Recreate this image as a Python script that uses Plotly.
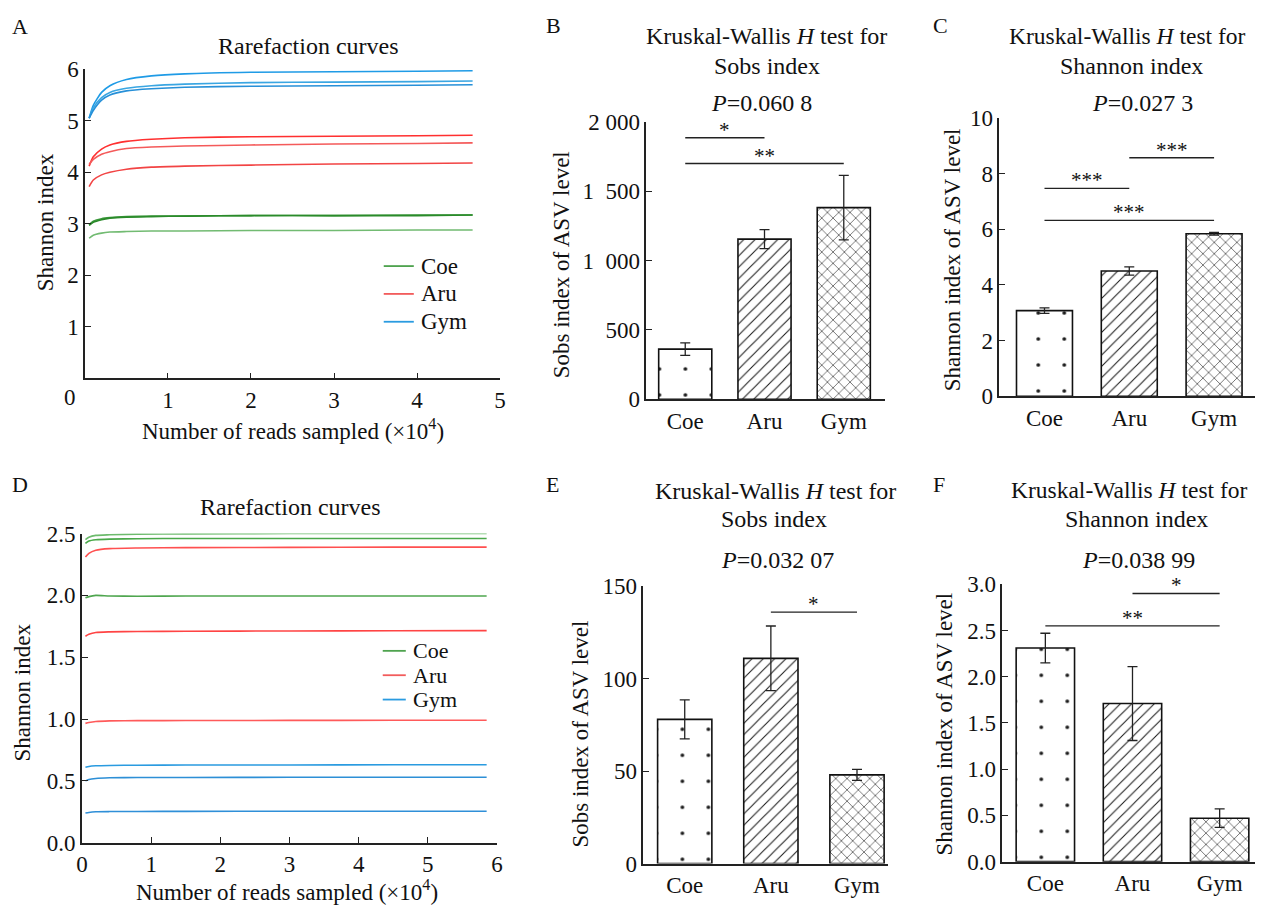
import plotly.graph_objects as go

FONT = "Liberation Serif"
W, H = 1263, 905
# measured mapping between figure pixels and the photographed picture
SX, OX = 0.988, 14.2
SY, OY = 0.978, 18.5

groups = ["Coe", "Aru", "Gym"]

# ---------------- Panel A: rarefaction curves (reads x10^4, Shannon) -------------
a_reads = [0.05, 0.1, 0.2, 0.3, 0.5, 0.8, 1.2, 2.0, 3.0, 4.0, 4.67]
a_coe = [
    [2.98, 3.05, 3.10, 3.12, 3.14, 3.15, 3.15, 3.16, 3.16, 3.17, 3.17],
    [2.97, 3.03, 3.08, 3.11, 3.13, 3.14, 3.15, 3.16, 3.16, 3.16, 3.17],
    [2.72, 2.78, 2.82, 2.84, 2.85, 2.86, 2.86, 2.87, 2.87, 2.88, 2.88],
]
a_aru = [
    [4.12, 4.30, 4.45, 4.53, 4.60, 4.64, 4.67, 4.69, 4.70, 4.71, 4.72],
    [4.15, 4.25, 4.35, 4.40, 4.46, 4.49, 4.51, 4.53, 4.55, 4.56, 4.57],
    [3.72, 3.85, 3.95, 4.00, 4.06, 4.10, 4.12, 4.14, 4.16, 4.17, 4.18],
]
a_gym = [
    [5.05, 5.30, 5.55, 5.68, 5.80, 5.87, 5.91, 5.94, 5.95, 5.96, 5.97],
    [5.05, 5.25, 5.45, 5.55, 5.63, 5.68, 5.71, 5.74, 5.75, 5.76, 5.77],
    [5.05, 5.20, 5.40, 5.50, 5.58, 5.62, 5.65, 5.67, 5.68, 5.69, 5.70],
]

# ---------------- Panel D: rarefaction curves ----------------
d_reads = [0.05, 0.1, 0.2, 0.4, 0.8, 1.5, 3.0, 4.5, 5.85]
d_coe = [
    [2.45, 2.47, 2.485, 2.49, 2.495, 2.497, 2.50, 2.50, 2.50],
    [2.42, 2.44, 2.45, 2.455, 2.458, 2.46, 2.46, 2.46, 2.46],
    [1.98, 1.99, 2.00, 1.995, 1.993, 1.995, 1.995, 1.995, 1.995],
]
d_aru = [
    [2.31, 2.34, 2.365, 2.378, 2.383, 2.386, 2.388, 2.39, 2.39],
    [1.67, 1.685, 1.70, 1.705, 1.708, 1.71, 1.712, 1.714, 1.715],
    [0.965, 0.972, 0.98, 0.985, 0.987, 0.988, 0.989, 0.99, 0.99],
]
d_gym = [
    [0.61, 0.617, 0.622, 0.625, 0.627, 0.628, 0.629, 0.63, 0.63],
    [0.50, 0.512, 0.52, 0.525, 0.527, 0.528, 0.529, 0.53, 0.53],
    [0.24, 0.245, 0.25, 0.252, 0.253, 0.254, 0.255, 0.255, 0.255],
]

# ---------------- Bar panels ----------------
b_sobs = [362, 1155, 1382]
b_err = [45, 68, 232]
c_shannon = [3.08, 4.50, 5.84]
c_err = [0.10, 0.15, 0.05]
e_sobs = [78, 111, 48]
e_err = [10.5, 17.5, 3]
f_shannon = [2.31, 1.71, 0.47]
f_err = [0.16, 0.40, 0.10]

# significance brackets: (from index, to index, y level, label)
b_sig = [(0, 1, 1886, "*"), (0, 2, 1700, "**")]
c_sig = [(1, 2, 8.57, "***"), (0, 1, 7.47, "***"), (0, 2, 6.32, "***")]
e_sig = [(1, 2, 136, "*")]
f_sig = [(1, 2, 2.90, "*"), (0, 2, 2.55, "**")]

b_ticks = [0, 500, 1000, 1500, 2000]
b_ticktext = ["0", "500", "1\u00a0\u00a0000", "1\u00a0\u00a0500", "2\u00a0000"]
c_ticks = [0, 2, 4, 6, 8, 10]
e_ticks = [0, 50, 100, 150]
f_ticks = [0, 0.5, 1.0, 1.5, 2.0, 2.5, 3.0]
f_ticktext = ["0.0", "0.5", "1.0", "1.5", "2.0", "2.5", "3.0"]
d_yticks = [0, 0.5, 1.0, 1.5, 2.0, 2.5]
d_yticktext = ["0.0", "0.5", "1.0", "1.5", "2.0", "2.5"]

coe_cols = ["#3f9a3f", "#2a8a2a", "#72bb72"]
aru_cols = ["#ff3030", "#f45a5a", "#f24444"]
gym_cols = ["#1f9be6", "#3aa6e2", "#2790d8"]
d_coe_cols = ["#6dbb6d", "#4aa84a", "#4fa64f"]
d_aru_cols = ["#ff5050", "#ff4444", "#ff5a5a"]
d_gym_cols = ["#2a9be0", "#2d8fd6", "#2f8fd8"]
legend_cols = ["#4fa34f", "#f25c5c", "#2a9be0"]

fig = go.Figure()


def fx(px):
    return ((px - OX) / SX) / W


def fy(py):
    return 1 - ((py - OY) / SY) / H


def xdom(a, b):
    return [max(0, fx(a)), min(1, fx(b))]


def ydom(top, bottom):
    return [max(0, fy(bottom)), min(1, fy(top))]


def add_curves(xs, sets, colsets, xa, ya):
    for g, series, cols in zip(groups, sets, colsets):
        for i, ys in enumerate(series):
            fig.add_trace(go.Scatter(
                x=xs, y=ys, mode="lines", name=g, legendgroup=g, showlegend=False,
                line=dict(color=cols[i], width=1.6, shape="spline", smoothing=0.6),
                xaxis=xa, yaxis=ya))


add_curves(a_reads, [a_coe, a_aru, a_gym], [coe_cols, aru_cols, gym_cols], "x", "y")
add_curves(d_reads, [d_coe, d_aru, d_gym], [d_coe_cols, d_aru_cols, d_gym_cols], "x4", "y4")

pat = dict(shape=[".", "/", "x"], size=[26, 8, 8], solidity=[0.016, 0.13, 0.14],
           fgcolor="#1a1a1a", bgcolor="white", fgopacity=1)


def add_bars(vals, errs, width, xa, ya):
    fig.add_trace(go.Bar(
        x=[0, 1, 2], y=vals, width=width, showlegend=False,
        marker=dict(color="white", line=dict(color="#111111", width=1.6), pattern=pat),
        error_y=dict(type="data", array=errs, visible=True, color="#222222",
                     thickness=1.3, width=5),
        xaxis=xa, yaxis=ya))


add_bars(b_sobs, b_err, 0.67, "x2", "y2")
add_bars(c_shannon, c_err, 0.66, "x3", "y3")
add_bars(e_sobs, e_err, 0.63, "x5", "y5")
add_bars(f_shannon, f_err, 0.67, "x6", "y6")

shapes = []
annotations = []


def add_sig(sigs, xa, ya):
    for i0, i1, yv, lab in sigs:
        shapes.append(dict(type="line", xref=xa, yref=ya, x0=i0, x1=i1, y0=yv, y1=yv,
                           line=dict(color="#222222", width=1.4)))
        annotations.append(dict(xref=xa, yref=ya, x=(i0 + i1) / 2, y=yv, text=lab,
                                showarrow=False, yanchor="bottom", yshift=-6,
                                font=dict(family=FONT, size=21, color="#111")))


add_sig(b_sig, "x2", "y2")
add_sig(c_sig, "x3", "y3")
add_sig(e_sig, "x5", "y5")
add_sig(f_sig, "x6", "y6")


def txt(x, y, text, size=23, angle=0, xanchor="center"):
    annotations.append(dict(xref="paper", yref="paper", x=fx(x), y=fy(y), text=text,
                            showarrow=False, xanchor=xanchor, yanchor="middle",
                            textangle=angle, font=dict(family=FONT, size=size, color="#111")))


# panel letters
for lab, x, y in [("A", 20, 25), ("B", 552, 24), ("C", 938, 24),
                  ("D", 20, 486), ("E", 551, 486), ("F", 937, 486)]:
    txt(x, y, lab, size=22)

# titles
txt(308, 45, "Rarefaction curves", size=24)
txt(290, 508, "Rarefaction curves", size=24)
kw = "Kruskal-Wallis <i>H</i> test for"
txt(765, 35, kw, size=24)
txt(765, 65, "Sobs index", size=24)
txt(1125, 35, kw, size=23.5)
txt(1129, 65, "Shannon index", size=24)
txt(774, 492, kw, size=24)
txt(772, 520, "Sobs index", size=24)
txt(1127, 491, kw, size=23.5)
txt(1134, 520, "Shannon index", size=24)
txt(760, 102, "<i>P</i>=0.060 8", size=24)
txt(1140, 102, "<i>P</i>=0.027 3", size=24)
txt(776, 562, "<i>P</i>=0.032 07", size=24)
txt(1136, 562, "<i>P</i>=0.038 99", size=24)

# axis titles
txt(292, 430, "Number of reads sampled (×10<sup>4</sup>)")
txt(287, 894, "Number of reads sampled (×10<sup>4</sup>)")
txt(45, 222, "Shannon index", angle=-90)
txt(23, 695, "Shannon index", angle=-90)
txt(560, 265, "Sobs index of ASV level", angle=-90)
txt(950, 260, "Shannon index of ASV level", angle=-90)
txt(579, 737, "Sobs index of ASV level", angle=-90)
txt(942, 727, "Shannon index of ASV level", angle=-90)
txt(70, 398, "0")

# legends (line sample + label) for the two rarefaction panels
for (lx0, lx1, tx, ys, fs) in [(383, 413, 418, [266, 294, 322], 23),
                               (382, 405, 410, [653, 677.5, 702], 22)]:
    for g, c, yy in zip(groups, legend_cols, ys):
        shapes.append(dict(type="line", xref="paper", yref="paper", x0=fx(lx0), x1=fx(lx1),
                           y0=fy(yy), y1=fy(yy), line=dict(color=c, width=1.8)))
        txt(tx, yy, g, size=fs, xanchor="left")

tickfont = dict(family=FONT, size=23, color="#111")
base = dict(showline=True, linecolor="#222222", linewidth=1.5, mirror=False,
            showgrid=False, zeroline=False, ticks="inside", ticklen=6,
            tickcolor="#222222", tickwidth=1.3, tickfont=tickfont)

bar_x = dict(base, tickmode="array", tickvals=[0, 1, 2], ticktext=groups, ticks="")

layout = dict(
    width=W, height=H, margin=dict(l=0, r=0, t=0, b=0, pad=0),
    paper_bgcolor="white", plot_bgcolor="white", showlegend=False,
    font=dict(family=FONT, color="#111"),
    xaxis=dict(base, domain=xdom(85, 499), range=[0, 5], tickvals=[1, 2, 3, 4, 5],
               anchor="y"),
    yaxis=dict(base, domain=ydom(68, 379), range=[0, 6], tickvals=[1, 2, 3, 4, 5, 6],
               anchor="x"),
    xaxis2=dict(bar_x, domain=xdom(645, 883), range=[-0.49, 2.52], anchor="y2"),
    yaxis2=dict(base, domain=ydom(121, 400), range=[0, 2000], tickvals=b_ticks,
                ticktext=b_ticktext, anchor="x2"),
    xaxis3=dict(bar_x, domain=xdom(997, 1262), range=[-0.533, 2.6], anchor="y3"),
    yaxis3=dict(base, domain=ydom(117, 397), range=[0, 10], tickvals=c_ticks, anchor="x3"),
    xaxis4=dict(base, domain=xdom(82, 496), range=[0, 6], tickvals=[0, 1, 2, 3, 4, 5, 6],
                anchor="y4"),
    yaxis4=dict(base, domain=ydom(535, 846), range=[0, 2.5], tickvals=d_yticks,
                ticktext=d_yticktext, anchor="x4"),
    xaxis5=dict(bar_x, domain=xdom(642, 886), range=[-0.48, 2.36], anchor="y5"),
    yaxis5=dict(base, domain=ydom(588, 867), range=[0, 150], tickvals=e_ticks, anchor="x5"),
    xaxis6=dict(bar_x, domain=xdom(1000, 1262), range=[-0.494, 2.52], anchor="y6"),
    yaxis6=dict(base, domain=ydom(586, 865), range=[0, 3], tickvals=f_ticks,
                ticktext=f_ticktext, anchor="x6"),
    shapes=shapes, annotations=annotations,
)
fig.update_layout(**layout)
fig.write_html("out.html")
